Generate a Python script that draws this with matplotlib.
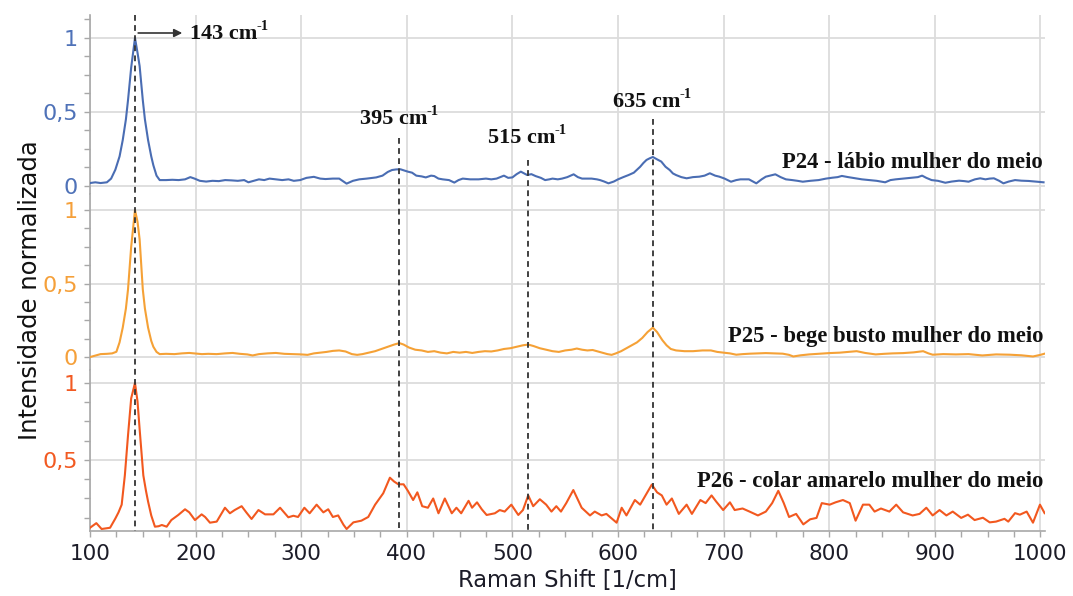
import matplotlib
matplotlib.use('Agg')
import matplotlib.pyplot as plt
from matplotlib.ticker import MultipleLocator, FixedLocator
from matplotlib.lines import Line2D
from matplotlib.patches import FancyArrowPatch
import matplotlib.transforms as mtransforms

# ---------------- data ----------------
p24_x = [100, 105, 110, 116, 120, 124, 128, 131, 134, 136, 139, 142.6, 145, 147, 150, 152, 155, 158, 160, 163,
         166, 172, 178, 184, 190, 195, 199, 204, 210, 216, 222, 228, 234, 240, 246, 250, 255, 260, 265, 270,
         276, 282, 288, 293, 299, 305, 312, 318, 323, 330, 336, 343, 349, 355, 362, 371, 377, 382, 386, 390,
         394, 401, 405, 409, 414, 418, 423, 426, 430, 434, 440, 445, 449, 453, 460, 468, 475, 480, 485, 492,
         496, 500, 504, 508, 514, 518, 522, 527, 531, 535, 538, 543, 547, 552, 558, 562, 566, 571, 575, 580,
         583, 587, 591, 596, 600, 605, 610, 615, 621, 624, 627, 630, 633, 637, 641, 645, 649, 652, 655, 660,
         665, 671, 677, 682, 687, 692, 696, 701, 707, 712, 716, 720, 724, 728, 731, 736, 740, 745, 749, 754,
         759, 765, 770, 775, 782, 790, 797, 803, 808, 812, 818, 825, 831, 838, 845, 853, 858, 863, 870, 879,
         884, 888, 892, 897, 903, 910, 916, 923, 928, 932, 938, 943, 948, 952, 956, 961, 965, 970, 976, 982,
         989, 995, 1003]
p24_y = [0.02, 0.025, 0.02, 0.025, 0.05, 0.11, 0.2, 0.31, 0.45, 0.58, 0.8, 1.0, 0.9, 0.81, 0.58, 0.45, 0.31, 0.2, 0.14, 0.07,
         0.04, 0.04, 0.042, 0.04, 0.045, 0.06, 0.05, 0.035, 0.03, 0.035, 0.033, 0.04, 0.038, 0.035, 0.04, 0.025, 0.035, 0.045, 0.04, 0.05,
         0.045, 0.04, 0.045, 0.035, 0.04, 0.055, 0.062, 0.05, 0.047, 0.05, 0.05, 0.016, 0.035, 0.045, 0.05, 0.058, 0.07, 0.095, 0.108, 0.112,
         0.113, 0.097, 0.09, 0.07, 0.065, 0.058, 0.07, 0.067, 0.05, 0.045, 0.04, 0.023, 0.04, 0.05, 0.045, 0.045, 0.05, 0.045, 0.05, 0.07,
         0.055, 0.058, 0.08, 0.097, 0.074, 0.08, 0.067, 0.055, 0.04, 0.045, 0.05, 0.045, 0.05, 0.06, 0.079, 0.06, 0.05, 0.05, 0.05, 0.045,
         0.04, 0.03, 0.018, 0.03, 0.045, 0.06, 0.074, 0.09, 0.13, 0.155, 0.176, 0.187, 0.196, 0.18, 0.165, 0.13, 0.108, 0.085, 0.074, 0.06,
         0.052, 0.06, 0.063, 0.07, 0.086, 0.07, 0.063, 0.05, 0.029, 0.04, 0.045, 0.045, 0.045, 0.03, 0.018, 0.045, 0.063, 0.072, 0.079, 0.06,
         0.045, 0.04, 0.035, 0.029, 0.035, 0.04, 0.05, 0.056, 0.06, 0.068, 0.06, 0.052, 0.045, 0.04, 0.035, 0.025, 0.04, 0.045, 0.05, 0.056,
         0.06, 0.07, 0.055, 0.04, 0.035, 0.022, 0.03, 0.036, 0.033, 0.029, 0.045, 0.052, 0.045, 0.05, 0.052, 0.035, 0.018, 0.03, 0.04, 0.036,
         0.034, 0.03, 0.025]

p25_x = [100, 105, 110, 116, 121, 125, 128, 131, 134, 136, 139, 142.6, 145, 147, 150, 152, 155, 158, 160, 163,
         166, 172, 180, 187, 194, 200, 206, 212, 220, 228, 235, 242, 249, 254, 260, 268, 276, 284, 292, 300,
         306, 312, 318, 324, 330, 336, 342, 348, 353, 358, 364, 370, 376, 382, 388, 393, 397, 402, 408, 414,
         420, 426, 432, 438, 444, 450, 456, 462, 468, 474, 480, 486, 492, 498, 504, 510, 515, 520, 526, 532,
         538, 544, 550, 556, 561, 566, 571, 576, 580, 585, 590, 594, 598, 603, 608, 613, 618, 623, 628, 633,
         637, 642, 646, 650, 655, 663, 671, 680, 688, 694, 700, 706, 712, 718, 725, 733, 740, 748, 756, 762,
         766, 773, 781, 790, 800, 810, 818, 826, 834, 844, 852, 860, 870, 880, 889, 894, 898, 908, 920, 932,
         945, 958, 971, 982, 993, 1000, 1004]
p25_y = [0.0, 0.01, 0.02, 0.022, 0.025, 0.036, 0.1, 0.2, 0.33, 0.46, 0.75, 1.0, 0.92, 0.8, 0.46, 0.33, 0.2, 0.11, 0.07, 0.035,
         0.02, 0.022, 0.02, 0.025, 0.028, 0.024, 0.02, 0.022, 0.02, 0.025, 0.028, 0.022, 0.018, 0.011, 0.02, 0.025, 0.028, 0.022, 0.02, 0.018,
         0.015, 0.025, 0.03, 0.035, 0.042, 0.045, 0.038, 0.02, 0.015, 0.02, 0.03, 0.04, 0.055, 0.07, 0.085, 0.095, 0.085, 0.065, 0.05, 0.045,
         0.035, 0.04, 0.03, 0.025, 0.035, 0.03, 0.035, 0.028, 0.035, 0.04, 0.038, 0.045, 0.055, 0.06, 0.07, 0.08, 0.085, 0.075, 0.06, 0.05,
         0.04, 0.035, 0.045, 0.05, 0.058, 0.05, 0.045, 0.048, 0.04, 0.03, 0.02, 0.015, 0.025, 0.04, 0.06, 0.08, 0.1, 0.13, 0.17, 0.2,
         0.17, 0.115, 0.08, 0.055, 0.045, 0.04, 0.04, 0.045, 0.045, 0.035, 0.03, 0.025, 0.016, 0.02, 0.023, 0.025, 0.027, 0.025, 0.023, 0.015,
         0.004, 0.012, 0.018, 0.022, 0.027, 0.03, 0.035, 0.04, 0.028, 0.018, 0.022, 0.025, 0.027, 0.032, 0.04, 0.025, 0.016, 0.02, 0.018, 0.02,
         0.011, 0.018, 0.016, 0.012, 0.004, 0.015, 0.023]

p26_x = [100, 106, 111, 119, 124, 127, 130, 133, 136, 139, 142.6, 145, 147, 150.5, 153, 155, 158, 161.5, 165, 168,
         172.6, 177, 183.6, 190, 194, 199.4, 205.7, 209, 213.6, 220, 227.8, 232.5, 237, 243.6, 248, 253, 259.5, 265.8, 273.7, 280,
         287.8, 292.6, 297, 303, 308, 314.6, 321, 325.6, 330, 335, 340, 343, 349.4, 357, 363.5, 370, 377.7, 384, 388, 392,
         397, 401, 406, 410, 414.6, 420, 425, 430, 436, 442.6, 447, 451.5, 458.5, 461.8, 466.5, 471, 475.6, 483.4, 488, 492.7,
         499, 505.6, 510, 515, 519.7, 526, 532, 537, 541.6, 546, 551, 557.7, 565.6, 573.5, 578, 584.5, 589, 598.7, 603.5, 608,
         616, 621, 632, 637, 641.5, 646, 651, 657.6, 665, 670, 678, 683, 688.6, 693, 699.6, 706, 710.5, 718, 724.6, 732.5,
         740, 746, 751.8, 757, 762, 768.7, 775.5, 782, 788, 793, 800.5, 806, 813, 819.5, 825, 832, 838, 843, 849, 857,
         863.5, 870, 879, 885.6, 892, 898, 904.5, 911, 917, 925, 931.4, 937.7, 945.6, 952, 958, 966, 969.6, 976, 980.6, 987,
         993, 999.6, 1004]
p26_y = [0.06, 0.09, 0.052, 0.06, 0.12, 0.16, 0.21, 0.4, 0.66, 0.9, 1.0, 0.88, 0.7, 0.40, 0.3, 0.23, 0.14, 0.067, 0.07, 0.078,
         0.067, 0.11, 0.143, 0.18, 0.16, 0.11, 0.147, 0.13, 0.093, 0.1, 0.19, 0.154, 0.175, 0.2, 0.16, 0.117, 0.175, 0.147, 0.147, 0.19,
         0.128, 0.138, 0.13, 0.19, 0.154, 0.21, 0.16, 0.18, 0.13, 0.14, 0.08, 0.052, 0.095, 0.106, 0.13, 0.21, 0.284, 0.385, 0.36, 0.342,
         0.342, 0.3, 0.24, 0.29, 0.2, 0.19, 0.25, 0.154, 0.25, 0.154, 0.19, 0.154, 0.235, 0.19, 0.225, 0.18, 0.143, 0.154, 0.175, 0.165,
         0.21, 0.143, 0.175, 0.27, 0.2, 0.245, 0.21, 0.165, 0.2, 0.165, 0.22, 0.305, 0.19, 0.14, 0.165, 0.14, 0.15, 0.093, 0.19, 0.14,
         0.24, 0.21, 0.34, 0.29, 0.27, 0.21, 0.25, 0.15, 0.21, 0.15, 0.24, 0.22, 0.27, 0.23, 0.175, 0.225, 0.175, 0.185, 0.165, 0.14,
         0.165, 0.22, 0.3, 0.22, 0.13, 0.15, 0.082, 0.115, 0.124, 0.22, 0.21, 0.225, 0.24, 0.22, 0.106, 0.21, 0.21, 0.165, 0.185, 0.165,
         0.21, 0.16, 0.14, 0.15, 0.19, 0.14, 0.175, 0.14, 0.165, 0.124, 0.145, 0.11, 0.125, 0.095, 0.1, 0.118, 0.1, 0.155, 0.145, 0.165,
         0.093, 0.21, 0.155]

series_labels = ["P24 - lábio mulher do meio", "P25 - bege busto mulher do meio",
                 "P26 - colar amarelo mulher do meio"]
peak_lines = [143, 393, 515, 633]
peak_labels = ["143", "395", "515", "635"]
unit_main = " cm"
unit_sup = "-1"
y_ticks = [0, 0.5, 1]
y_ticklabels = ["0", "0,5", "1"]
x_ticks = [100, 200, 300, 400, 500, 600, 700, 800, 900, 1000]

# ---------------- style ----------------
plt.rcParams['font.family'] = ['DejaVu Sans']

W, H = 1073, 596
fig = plt.figure(figsize=(W / 100, H / 100), dpi=100)

line_colors = ['#4a6db3', '#f5a136', '#f2581f']
tick_colors = ['#4f72b8', '#f5a03a', '#f25a22']
panels_px = [(15, 194), (194, 370), (370, 531)]
ylims = [(-0.054, 1.155), (-0.088, 1.109), (0.039, 1.084)]
left_px, right_px = 90, 1044.6

data = [(p24_x, p24_y), (p25_x, p25_y), (p26_x, p26_y)]
axes = []
for i, ((top, bot), (xs, ys)) in enumerate(zip(panels_px, data)):
    ax = fig.add_axes([left_px / W, 1 - bot / H, (right_px - left_px) / W, (bot - top) / H])
    ax.set_facecolor('none')
    ax.plot(xs, ys, color=line_colors[i], lw=1.5, zorder=3)
    ax.set_xlim(100, 1004)
    ax.set_ylim(*ylims[i])
    ax.xaxis.set_major_locator(FixedLocator(x_ticks))
    ax.xaxis.set_minor_locator(MultipleLocator(25))
    yt = [t for t in y_ticks if ylims[i][0] <= t <= ylims[i][1]]
    ax.yaxis.set_major_locator(FixedLocator(yt))
    ax.set_yticklabels([y_ticklabels[y_ticks.index(t)] for t in yt])
    ax.yaxis.set_minor_locator(MultipleLocator(0.125))
    ax.grid(True, which='major', color='#dcdcdc', lw=1.3, zorder=0)
    for s in ['top', 'right']:
        ax.spines[s].set_visible(False)
    ax.spines['left'].set_color('#a8a8a8')
    ax.spines['left'].set_linewidth(1.2)
    ax.tick_params(axis='y', which='both', direction='out', length=4, width=1,
                   color='#a8a8a8', labelcolor=tick_colors[i], labelsize=16, pad=5)
    if i < 2:
        ax.spines['bottom'].set_visible(False)
        ax.tick_params(axis='x', which='both', bottom=False, labelbottom=False)
    else:
        ax.spines['bottom'].set_color('#a8a8a8')
        ax.spines['bottom'].set_linewidth(1.2)
        ax.tick_params(axis='x', which='both', direction='out', length=4, width=1,
                       color='#a8a8a8', labelcolor='#1c1c28', labelsize=15.5, pad=5)
    axes.append(ax)

ax_bot = axes[-1]
trans = mtransforms.blended_transform_factory(ax_bot.transData, fig.transFigure)

# dashed peak lines
line_tops = [15, 138, 160, 119]
for xv, tp in zip(peak_lines, line_tops):
    fig.add_artist(Line2D([xv, xv], [1 - tp / H, 1 - 531 / H], transform=trans,
                          ls=(0, (3.2, 2.4)), color='#333333', lw=1.3, zorder=5))

# peak annotations (main text + superscript)
renderer = fig.canvas.get_renderer()
ident = mtransforms.IdentityTransform()
main_fs, sup_fs = 16, 10.5


def peak_text(label, x_disp, base_py, align):
    t = fig.text(0, 0, label + unit_main, transform=ident, ha='left', va='baseline',
                 family='Liberation Serif', weight='bold', fontsize=main_fs, color='#111111')
    s = fig.text(0, 0, unit_sup, transform=ident, ha='left', va='baseline',
                 family='Liberation Serif', weight='bold', fontsize=sup_fs, color='#111111')
    wm = t.get_window_extent(renderer).width
    ws = s.get_window_extent(renderer).width
    x0 = x_disp if align == 'left' else x_disp - (wm + ws) / 2
    yb = H - base_py
    t.set_position((x0, yb))
    s.set_position((x0 + wm - 1.0, yb + 0.42 * main_fs * 100 / 72))


base_y = [39, 124, 143, 107]
for k, (lab, xv, by) in enumerate(zip(peak_labels, peak_lines, base_y)):
    if k == 0:
        xd = ax_bot.transData.transform((194.7, 0))[0]
        peak_text(lab, xd, by, 'left')
    else:
        xd = ax_bot.transData.transform((xv, 0))[0]
        peak_text(lab, xd, by, 'center')

# arrow from 143 line to label
arr = FancyArrowPatch((peak_lines[0], 1 - 33 / H), (190, 1 - 33 / H),
                      transform=trans, arrowstyle='-|>', mutation_scale=12,
                      color='#333333', lw=1.2)
fig.add_artist(arr)

# series labels
lab_font = dict(family='Liberation Serif', weight='bold', fontsize=16.3, color='#111111')
lab_base = [168, 342, 487]
for lab, yb in zip(series_labels, lab_base):
    fig.text(1043 / W, 1 - yb / H, lab, ha='right', va='baseline', **lab_font)

# axis labels
fig.text(30 / W, 1 - 290 / H, "Intensidade normalizada", rotation=90,
         ha='center', va='center', fontsize=17.5, color='#111111')
fig.text(567 / W, 1 - 580 / H, "Raman Shift [1/cm]", ha='center', va='center',
         fontsize=16.3, color='#1c1c28')

fig.savefig('out.png', dpi=100)
